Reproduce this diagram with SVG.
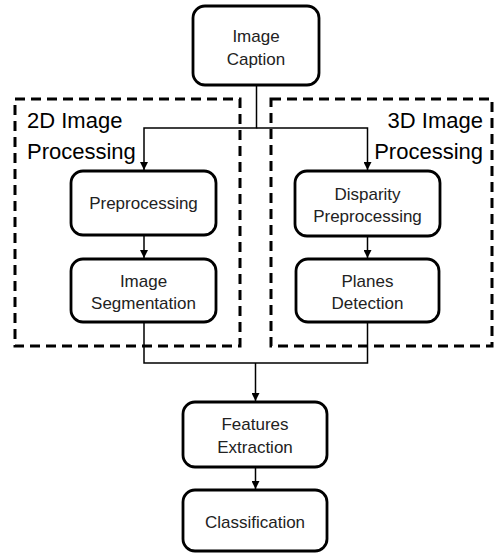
<svg xmlns="http://www.w3.org/2000/svg" width="495" height="554" viewBox="0 0 495 554">
<style>
.box{fill:#fff;stroke:#000;stroke-width:2.8}
.grp{fill:none;stroke:#000;stroke-width:3;stroke-dasharray:10,6}
.lbl{font-family:"Liberation Sans",Arial,sans-serif;font-size:17px;fill:#222;text-anchor:middle}
.ttl{font-family:"Liberation Sans",Arial,sans-serif;font-size:22px;fill:#000}
.con{fill:none;stroke:#000;stroke-width:1.5}
</style>
<defs>
<marker id="ah" markerWidth="8" markerHeight="8" refX="8" refY="4" orient="auto" markerUnits="userSpaceOnUse">
<path d="M0,0 L8,4 L0,8 Z" fill="#000"/>
</marker>
</defs>
<g id="group-2d">
<rect class="grp" x="15" y="99" width="225" height="247"/>
<text class="ttl" x="27" y="128">2D Image</text>
<text class="ttl" x="27" y="159">Processing</text>
</g>
<g id="group-3d">
<rect class="grp" x="271" y="99" width="221" height="247"/>
<text class="ttl" x="483" y="128" text-anchor="end">3D Image</text>
<text class="ttl" x="483" y="159" text-anchor="end">Processing</text>
</g>
<g id="connectors">
<path class="con" d="M256.5,85 V128 H144 V170" marker-end="url(#ah)"/>
<path class="con" d="M256.5,128 H367.5 V170" marker-end="url(#ah)"/>
<path class="con" d="M144,235 V258" marker-end="url(#ah)"/>
<path class="con" d="M367.5,236 V258" marker-end="url(#ah)"/>
<path class="con" d="M144,322 V363 H367.5 V322"/>
<path class="con" d="M255.5,363 V401" marker-end="url(#ah)"/>
<path class="con" d="M255.5,467 V489" marker-end="url(#ah)"/>
</g>
<g id="image-caption">
<rect class="box" x="193" y="6" width="126" height="79" rx="12"/>
<text class="lbl" x="256" y="42">Image</text>
<text class="lbl" x="256" y="65">Caption</text>
</g>
<g id="preprocessing">
<rect class="box" x="71" y="171" width="145" height="64" rx="12"/>
<text class="lbl" x="143.5" y="209">Preprocessing</text>
</g>
<g id="disparity-preprocessing">
<rect class="box" x="295" y="171" width="145" height="65" rx="12"/>
<text class="lbl" x="367.5" y="200">Disparity</text>
<text class="lbl" x="367.5" y="222">Preprocessing</text>
</g>
<g id="image-segmentation">
<rect class="box" x="71" y="259" width="145" height="63" rx="12"/>
<text class="lbl" x="143.5" y="287">Image</text>
<text class="lbl" x="143.5" y="309">Segmentation</text>
</g>
<g id="planes-detection">
<rect class="box" x="296" y="259" width="143" height="63" rx="12"/>
<text class="lbl" x="367.5" y="287">Planes</text>
<text class="lbl" x="367.5" y="309">Detection</text>
</g>
<g id="features-extraction">
<rect class="box" x="183" y="402" width="144" height="65" rx="12"/>
<text class="lbl" x="255" y="430">Features</text>
<text class="lbl" x="255" y="453">Extraction</text>
</g>
<g id="classification">
<rect class="box" x="183" y="490" width="144" height="61" rx="12"/>
<text class="lbl" x="255" y="528">Classification</text>
</g>
</svg>
